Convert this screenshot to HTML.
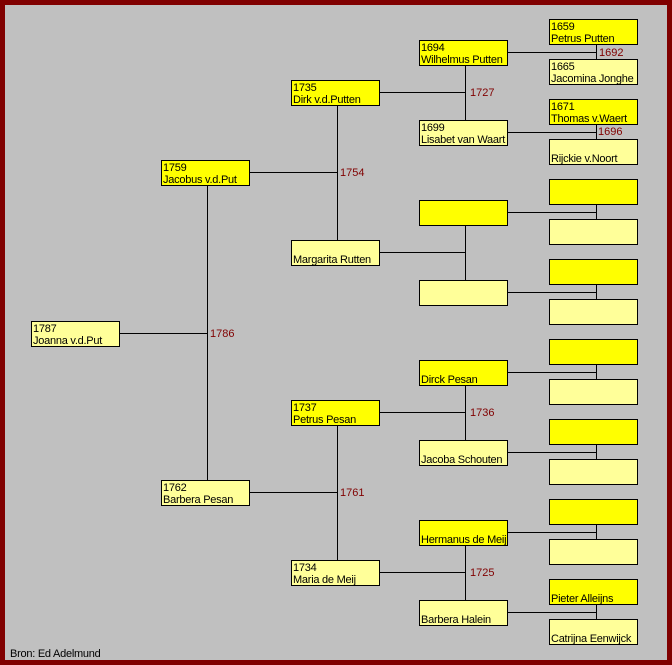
<!DOCTYPE html>
<html><head><meta charset="utf-8"><style>
html,body{margin:0;padding:0;background:#800000;}
svg{display:block;}
text{font-family:"Liberation Sans",Arial,sans-serif;font-size:11px;fill:#000;letter-spacing:-0.25px;}
.l{fill:#800000;letter-spacing:0;}
.m{fill:#ffff00;stroke:#000;stroke-width:1}
.f{fill:#ffff99;stroke:#000;stroke-width:1}
line{stroke:#000;stroke-width:1}
</style></head><body>
<svg width="672" height="665" viewBox="0 0 672 665" xmlns="http://www.w3.org/2000/svg">
<rect x="0" y="0" width="672" height="665" fill="#800000"/>
<rect x="5" y="5" width="662" height="655" fill="#c0c0c0"/>
<g transform="translate(0.5,0.5)">
<line x1="119" y1="333" x2="207" y2="333"/>
<line x1="207" y1="185" x2="207" y2="480"/>
<line x1="249" y1="172" x2="337" y2="172"/>
<line x1="337" y1="105" x2="337" y2="240"/>
<line x1="249" y1="492" x2="337" y2="492"/>
<line x1="337" y1="425" x2="337" y2="560"/>
<line x1="379" y1="92" x2="465" y2="92"/>
<line x1="465" y1="65" x2="465" y2="120"/>
<line x1="379" y1="252" x2="465" y2="252"/>
<line x1="465" y1="225" x2="465" y2="280"/>
<line x1="379" y1="412" x2="465" y2="412"/>
<line x1="465" y1="385" x2="465" y2="440"/>
<line x1="379" y1="572" x2="465" y2="572"/>
<line x1="465" y1="545" x2="465" y2="600"/>
<line x1="507" y1="52" x2="596" y2="52"/><line x1="596" y1="44" x2="596" y2="59"/>
<line x1="507" y1="132" x2="596" y2="132"/><line x1="596" y1="124" x2="596" y2="139"/>
<line x1="507" y1="212" x2="596" y2="212"/><line x1="596" y1="204" x2="596" y2="219"/>
<line x1="507" y1="292" x2="596" y2="292"/><line x1="596" y1="284" x2="596" y2="299"/>
<line x1="507" y1="372" x2="596" y2="372"/><line x1="596" y1="364" x2="596" y2="379"/>
<line x1="507" y1="452" x2="596" y2="452"/><line x1="596" y1="444" x2="596" y2="459"/>
<line x1="507" y1="532" x2="596" y2="532"/><line x1="596" y1="524" x2="596" y2="539"/>
<line x1="507" y1="612" x2="596" y2="612"/><line x1="596" y1="604" x2="596" y2="619"/>
<rect class="f" x="31" y="321" width="88" height="25"/>
<rect class="m" x="161" y="160" width="88" height="25"/>
<rect class="f" x="161" y="480" width="88" height="25"/>
<rect class="m" x="291" y="80" width="88" height="25"/>
<rect class="f" x="291" y="240" width="88" height="25"/>
<rect class="m" x="291" y="400" width="88" height="25"/>
<rect class="f" x="291" y="560" width="88" height="25"/>
<rect class="m" x="419" y="40" width="88" height="25"/>
<rect class="f" x="419" y="120" width="88" height="25"/>
<rect class="m" x="419" y="200" width="88" height="25"/>
<rect class="f" x="419" y="280" width="88" height="25"/>
<rect class="m" x="419" y="360" width="88" height="25"/>
<rect class="f" x="419" y="440" width="88" height="25"/>
<rect class="m" x="419" y="520" width="88" height="25"/>
<rect class="f" x="419" y="600" width="88" height="25"/>
<rect class="m" x="549" y="19" width="88" height="25"/>
<rect class="f" x="549" y="59" width="88" height="25"/>
<rect class="m" x="549" y="99" width="88" height="25"/>
<rect class="f" x="549" y="139" width="88" height="25"/>
<rect class="m" x="549" y="179" width="88" height="25"/>
<rect class="f" x="549" y="219" width="88" height="25"/>
<rect class="m" x="549" y="259" width="88" height="25"/>
<rect class="f" x="549" y="299" width="88" height="25"/>
<rect class="m" x="549" y="339" width="88" height="25"/>
<rect class="f" x="549" y="379" width="88" height="25"/>
<rect class="m" x="549" y="419" width="88" height="25"/>
<rect class="f" x="549" y="459" width="88" height="25"/>
<rect class="m" x="549" y="499" width="88" height="25"/>
<rect class="f" x="549" y="539" width="88" height="25"/>
<rect class="m" x="549" y="579" width="88" height="25"/>
<rect class="f" x="549" y="619" width="88" height="25"/>
</g>
<text x="33" y="332">1787</text><text x="33" y="344">Joanna v.d.Put</text>
<text x="163" y="171">1759</text><text x="163" y="183">Jacobus v.d.Put</text>
<text x="163" y="491">1762</text><text x="163" y="503">Barbera Pesan</text>
<text x="293" y="91">1735</text><text x="293" y="103">Dirk v.d.Putten</text>
<text x="293" y="263">Margarita Rutten</text>
<text x="293" y="411">1737</text><text x="293" y="423">Petrus Pesan</text>
<text x="293" y="571">1734</text><text x="293" y="583">Maria de Meij</text>
<text x="421" y="51">1694</text><text x="421" y="63">Wilhelmus Putten</text>
<text x="421" y="131">1699</text><text x="421" y="143">Lisabet van Waart</text>
<text x="421" y="383">Dirck Pesan</text>
<text x="421" y="463">Jacoba Schouten</text>
<text x="421" y="543">Hermanus de Meij</text>
<text x="421" y="623">Barbera Halein</text>
<text x="551" y="30">1659</text><text x="551" y="42">Petrus Putten</text>
<text x="551" y="70">1665</text><text x="551" y="82">Jacomina Jonghe</text>
<text x="551" y="110">1671</text><text x="551" y="122">Thomas v.Waert</text>
<text x="551" y="162">Rijckie v.Noort</text>
<text x="551" y="602">Pieter Alleijns</text>
<text x="551" y="642">Catrijna Eenwijck</text>
<text class="l" x="210" y="337">1786</text>
<text class="l" x="340" y="176">1754</text>
<text class="l" x="340" y="496">1761</text>
<text class="l" x="470" y="96">1727</text>
<text class="l" x="470" y="416">1736</text>
<text class="l" x="470" y="576">1725</text>
<text class="l" x="599" y="56">1692</text>
<text class="l" x="598" y="135">1696</text>
<text x="10" y="657">Bron:  Ed Adelmund</text>
</svg>
</body></html>
